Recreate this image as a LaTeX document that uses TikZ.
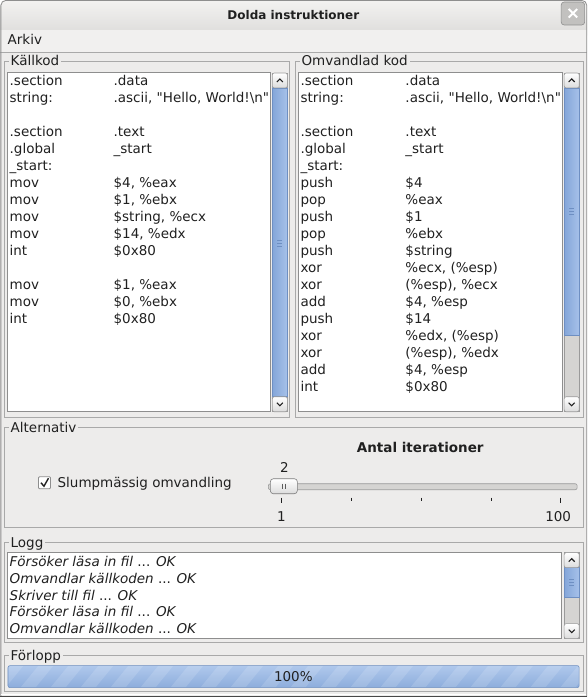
\documentclass[tikz,border=0pt]{standalone}
\usepackage{fontspec}
\setmainfont{DejaVu Sans}[Ligatures=TeXOff]
\usepackage{xcolor}
\definecolor{WindowBg}{HTML}{EDECEB}
\definecolor{MenuBg}{HTML}{F1F0EF}
\definecolor{TitleTop}{HTML}{F3F2F1}
\definecolor{TitleBottom}{HTML}{DAD9D7}
\definecolor{WindowEdge}{HTML}{8E8E8E}
\definecolor{FrameGray}{HTML}{A9A9A9}
\definecolor{FieldEdge}{HTML}{8E8E8E}
\definecolor{TextDark}{HTML}{202020}
\definecolor{ThumbBlue}{HTML}{A6C1E9}
\definecolor{ThumbDark}{HTML}{84A6D9}
\definecolor{ThumbEdge}{HTML}{6E8FC2}
\definecolor{TrackGray}{HTML}{D5D4D2}
\definecolor{ButtonFace}{HTML}{F7F7F7}
\definecolor{ButtonShade}{HTML}{DCDCDC}
\definecolor{ButtonEdge}{HTML}{9A9A9A}
\definecolor{CloseGray}{HTML}{C2C1BF}
\definecolor{BarBlue}{HTML}{8DADDC}
\definecolor{BarLight}{HTML}{AFC8EC}
\definecolor{BarEdge}{HTML}{6F8FBF}
\usetikzlibrary{positioning, calc}

\newcommand{\guifont}{\fontsize{13.5}{17}\selectfont}

\begin{document}
\begin{tikzpicture}[
  x=1pt, y=-1pt,
  % Rahmen einer Gruppe
  groupframe/.style={
    draw=FrameGray,
    line width=0.8pt
  },
  % Titel einer Gruppe
  grouplbl/.style={
    font=\guifont,
    text=TextDark,
    fill=WindowBg,
    inner xsep=2pt,
    inner ysep=0pt,
    anchor=base west
  },
  % Weisses Textfeld
  field/.style={
    draw=FieldEdge,
    fill=white,
    line width=0.8pt
  },
  % Normaler Text
  uitext/.style={
    font=\guifont,
    text=TextDark,
    inner sep=0pt
  },
  % Quelltext in den Feldern
  codetext/.style={
    font=\guifont,
    text=TextDark,
    inner sep=0pt,
    anchor=base west
  },
  % Laufbalken
  thumb/.style={
    draw=ThumbEdge,
    left color=ThumbDark,
    right color=ThumbBlue,
    line width=0.6pt
  },
  track/.style={
    fill=TrackGray,
    draw=ButtonEdge,
    line width=0.6pt
  },
  scrollup/.pic={
    \draw[ButtonEdge, top color=white, bottom color=ButtonShade, rounded corners=2pt, line width=0.6pt]
      (-7.5,-7.5) rectangle (7.5,7.5);
    \draw[TextDark, line width=1.1pt] (-3,1.5) -- (0,-1.5) -- (3,1.5);
  },
  scrolldown/.pic={
    \draw[ButtonEdge, top color=white, bottom color=ButtonShade, rounded corners=2pt, line width=0.6pt]
      (-7.5,-7.5) rectangle (7.5,7.5);
    \draw[TextDark, line width=1.1pt] (-3,-1.5) -- (0,1.5) -- (3,-1.5);
  },
  grip/.pic={
    \draw[ThumbEdge, line width=0.6pt] (-2.5,-3) -- (2.5,-3) (-2.5,0) -- (2.5,0) (-2.5,3) -- (2.5,3);
  }
]

% =============================================================================
% FENSTER
% =============================================================================
\fill[white] (0,0) rectangle (587,697);
\fill[WindowBg] (0,4) rectangle (587,697);
\shade[top color=TitleTop, bottom color=TitleBottom, rounded corners=5pt] (0,0) rectangle (587,40);
\fill[MenuBg] (0,30) rectangle (587,52);
\draw[FrameGray, line width=0.8pt] (0,52) -- (587,52);
\draw[WindowEdge, line width=0.8pt, rounded corners=5pt] (0.4,697) -- (0.4,0.4) -- (586.6,0.4) -- (586.6,697);
\draw[white, line width=1pt] (1,694.5) -- (586,694.5);
\draw[WindowEdge!50!black, line width=1pt] (0,696.5) -- (587,696.5);

\node[font=\fontsize{12}{14}\selectfont\bfseries, text=TextDark, inner sep=0pt, anchor=base] (title) at (293,19.5) {Dolda instruktioner};

% Schliessen
\draw[WindowEdge, fill=CloseGray, rounded corners=3pt, line width=0.6pt] (561,2) rectangle (584.5,25);
\draw[white, line width=2pt] (568.5,9) -- (577,17.5) (577,9) -- (568.5,17.5);

% Menü
\node[uitext, anchor=base west] (menu) at (7,45) {Arkiv};

% =============================================================================
% KÄLLKOD (links)
% =============================================================================
\draw[groupframe] (4,61) rectangle (289,418);
\node[grouplbl] (srclbl) at (8,66) {Källkod};
\draw[field] (7,72.5) rectangle (270,412);

\node[codetext] (srccode) at (9,86) {%
  \begin{tabular}[t]{@{}p{104pt}@{}l@{}}
    .section & .data\\
    string: & .ascii, "Hello, World!\textbackslash n"\\
    & \\
    .section & .text\\
    .global & \_start\\
    \_start: & \\
    mov & \$4, \%eax\\
    mov & \$1, \%ebx\\
    mov & \$string, \%ecx\\
    mov & \$14, \%edx\\
    int & \$0x80\\
    & \\
    mov & \$1, \%eax\\
    mov & \$0, \%ebx\\
    int & \$0x80
  \end{tabular}};

% Laufleiste
\draw[track] (272,73) rectangle (287,412);
\draw[thumb] (272,88) rectangle (287,397);
\pic at (279.5,243) {grip};
\pic at (279.5,80.5) {scrollup};
\pic at (279.5,404.5) {scrolldown};

% =============================================================================
% OMVANDLAD KOD (rechts)
% =============================================================================
\draw[groupframe] (295,61) rectangle (583,418);
\node[grouplbl] (dstlbl) at (299,66) {Omvandlad kod};
\draw[field] (298,72.5) rectangle (562,412);

\node[codetext] (dstcode) at (300,86) {%
  \begin{tabular}[t]{@{}p{105pt}@{}l@{}}
    .section & .data\\
    string: & .ascii, "Hello, World!\textbackslash n"\\
    & \\
    .section & .text\\
    .global & \_start\\
    \_start: & \\
    push & \$4\\
    pop & \%eax\\
    push & \$1\\
    pop & \%ebx\\
    push & \$string\\
    xor & \%ecx, (\%esp)\\
    xor & (\%esp), \%ecx\\
    add & \$4, \%esp\\
    push & \$14\\
    xor & \%edx, (\%esp)\\
    xor & (\%esp), \%edx\\
    add & \$4, \%esp\\
    int & \$0x80
  \end{tabular}};

% Laufleiste
\draw[track] (564,73) rectangle (579,412);
\draw[thumb] (564,88) rectangle (579,335);
\pic at (571.5,211) {grip};
\pic at (571.5,80.5) {scrollup};
\pic at (571.5,404.5) {scrolldown};

% =============================================================================
% ALTERNATIV
% =============================================================================
\draw[groupframe] (4,428) rectangle (583,528);
\node[grouplbl] (optlbl) at (8,433) {Alternativ};

% Kontrollkästchen
\draw[FieldEdge, fill=white, rounded corners=1pt, line width=0.8pt] (38,477) rectangle (50,489);
\draw[TextDark, line width=1.4pt] (40.5,483) -- (43.5,486.5) -- (48,478.5);
\node[uitext, anchor=base west] (random) at (57,488) {Slumpmässig omvandling};

% Schieberegler
\node[uitext, font=\guifont\bfseries, anchor=base] (iterlbl) at (420,453) {Antal iterationer};
\node[uitext, anchor=base] (itervalue) at (284,473) {2};
\draw[track, rounded corners=2pt] (268,484) rectangle (577,490);
\draw[ButtonEdge!80!black, top color=white, bottom color=ButtonShade, rounded corners=3pt, line width=0.6pt]
  (270,479) rectangle (297,494);
\draw[ButtonEdge!60!black, line width=0.6pt] (282,484) -- (282,489) (285,484) -- (285,489);

\foreach \tx in {351, 421, 491}
  \draw[TextDark, line width=0.8pt] (\tx,498) -- (\tx,501);
\draw[TextDark, line width=0.8pt] (281,498) -- (281,503.5) (560,498) -- (560,503.5);
\node[uitext, anchor=base] (itermin) at (281,522) {1};
\node[uitext, anchor=base] (itermax) at (558,522) {100};

% =============================================================================
% LOGG
% =============================================================================
\draw[groupframe] (4,543) rectangle (583,643);
\node[grouplbl] (loglbl) at (8,548) {Logg};
\draw[field] (7,553) rectangle (561,639);

\node[codetext, font=\fontsize{13.5}{16.75}\selectfont\itshape] (logtext) at (9,567) {%
  \begin{tabular}[t]{@{}l@{}}
    Försöker läsa in fil \textup{...} OK\\
    Omvandlar källkoden \textup{...} OK\\
    Skriver till fil \textup{...} OK\\
    Försöker läsa in fil \textup{...} OK\\
    Omvandlar källkoden \textup{...} OK
  \end{tabular}};

% Laufleiste
\draw[track] (564,553) rectangle (579,639);
\draw[thumb] (564,568) rectangle (579,598);
\pic at (571.5,583) {grip};
\pic at (571.5,560.5) {scrollup};
\pic at (571.5,631.5) {scrolldown};

% =============================================================================
% FÖRLOPP
% =============================================================================
\draw[groupframe] (4,656) rectangle (583,692);
\node[grouplbl] (proglbl) at (8,661) {Förlopp};

\begin{scope}
  \clip[rounded corners=2pt] (7.5,666) rectangle (579,688);
  \shade[top color=BarLight, bottom color=BarBlue] (7.5,666) rectangle (579,688);
  \foreach \sx in {-10,20,...,600}
    \fill[white, opacity=0.14] (\sx,688) -- (\sx+15,688) -- (\sx+33,666) -- (\sx+18,666) -- cycle;
\end{scope}
\draw[BarEdge, rounded corners=2pt, line width=0.6pt] (7.5,666) rectangle (579,688);
\node[uitext, anchor=base] (percent) at (293,682) {100\%};

\end{tikzpicture}
\end{document}
